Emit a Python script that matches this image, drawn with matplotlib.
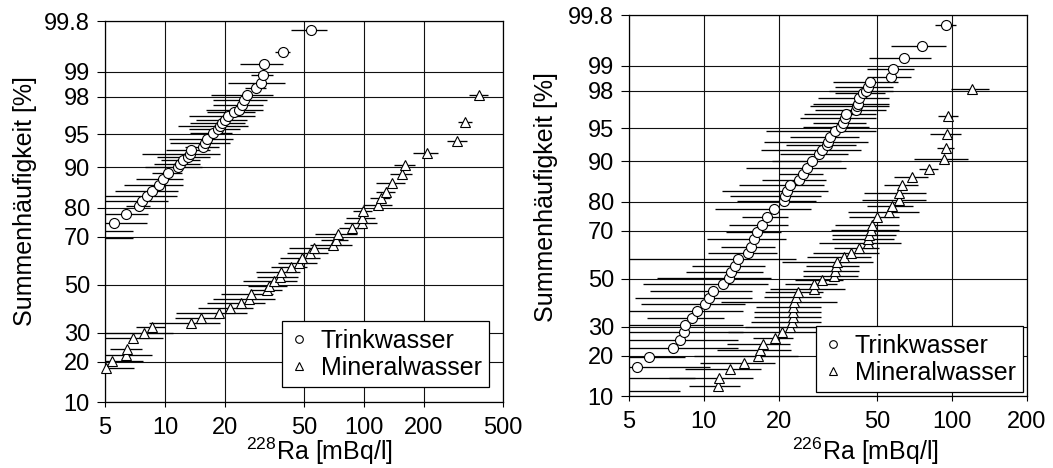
import numpy as np
import matplotlib
matplotlib.use("Agg")
import matplotlib.pyplot as plt
from matplotlib.lines import Line2D
from matplotlib.ticker import FixedLocator, NullLocator
from statistics import NormalDist

plt.rcParams['font.family'] = ['Liberation Sans', 'DejaVu Sans']
plt.rcParams['mathtext.default'] = 'regular'

# ---------------- data ----------------
# left panel: 228Ra
tw228_x = [3.9, 4.0, 5.55, 6.35, 7.41, 7.64, 8.10, 8.64, 9.31, 9.75, 10.4, 11.6, 11.9, 12.3, 13.0,
           13.3, 13.5, 15.6, 15.9, 16.3, 17.5, 18.55, 18.9, 19.3, 20.05, 20.8, 22.3, 23.6, 24.3,
           25.0, 25.95, 28.7, 30.4, 31.0, 31.6, 39.1, 54.2]
tw228_err = [3.0, 2.9, 2.55, 1.85, 1.0, 2.76, 3.37, 3.04, 3.06, 2.62, 1.8, 3.7, 3.1, 2.7, 3.85,
             5.6, 3.35, 3.0, 5.3, 5.8, 4.2, 5.3, 7.3, 6.0, 5.7, 7.6, 6.1, 7.6, 6.9, 7.5, 8.9,
             3.4, 9.7, 3.8, 7.8, 3.4, 11.3]
tw228_p = [69.5, 72.1, 75.0, 77.9, 80.5, 81.9, 83.3, 84.7, 86.1, 87.5, 88.8, 90.1, 90.7, 91.3,
           91.9, 92.3, 92.9, 93.4, 93.9, 94.4, 95.1, 95.5, 95.8, 96.1, 96.4, 96.7, 97.0, 97.2,
           97.5, 97.8, 98.1, 98.4, 98.6, 98.9, 99.2, 99.45, 99.73]

mw228_x = [5.06, 5.40, 6.38, 6.47, 6.94, 7.85, 8.58, 13.6, 15.1, 18.6, 21.2, 24.0, 26.6, 27.0,
           32.7, 33.5, 35.3, 37.9, 38.2, 42.9, 47.4, 49.0, 53.6, 56.2, 70.2, 72.2, 74.3, 86.8,
           97.5, 97.5, 98.6, 118.2, 121.5, 129.2, 138, 154.9, 160.9, 206.9, 294.7, 323.3, 378.6]
mw228_err = [1.9, 2.4, 2.2, 1.2, 2.8, 3.1, 1.4, 5.3, 3.8, 7.2, 6.5, 7.8, 9.2, 7.9, 5.9, 7.4,
             10.6, 8.8, 9.5, 8.7, 10.5, 11.2, 12.6, 14, 16.6, 11, 17.7, 12.2, 18.5, 16.2, 10.8,
             19.8, 13.8, 14, 23, 19, 19.7, 29.6, 34, 25, 43]
mw228_p = [18.2, 20.2, 22.1, 24.0, 27.9, 30.0, 32.1, 33.9, 35.9, 38.0, 39.8, 41.9, 43.6, 45.8,
           47.6, 49.5, 51.6, 53.4, 55.6, 57.5, 59.2, 61.3, 63.4, 65.4, 66.7, 68.7, 71.0, 73.1,
           74.8, 76.5, 78.9, 80.8, 82.7, 84.5, 86.7, 88.6, 90.4, 92.4, 94.2, 96.2, 98.1]

# right panel: 226Ra
tw226_x = [4.2, 4.2, 5.40, 6.02, 7.49, 8.01, 8.34, 8.39, 9.01, 9.40, 10.1, 10.5, 10.9, 11.9,
           12.6, 12.9, 13.3, 13.7, 15.1, 15.5, 15.9, 16.4, 17.2, 18.0, 19.1, 21.0, 21.2, 21.7,
           22.2, 24.1, 25.1, 26.1, 27.3, 29.1, 30.0, 31.3, 31.6, 32.3, 33.6, 35.7, 36.3, 36.9,
           37.4, 41.1, 41.3, 41.7, 42.3, 43.6, 44.8, 45.7, 46.7, 56.8, 58.0, 64.2, 75.6, 94.4]
tw226_err = [3.8, 5.0, 5.2, 2.4, 6.2, 5.7, 6.0, 6.0, 3.1, 5.0, 4.5, 5.2, 4.8, 6.2, 6.1, 4.4,
             4.3, 9.9, 4.7, 3.8, 5.6, 4.1, 4.6, 3.8, 8.0, 7.4, 8.5, 9.9, 8.4, 7.0, 5.1, 11.3,
             8.4, 8.8, 13, 9.8, 14.1, 10, 15.8, 10.7, 8.7, 12.5, 12, 13.1, 14.6, 14.2, 13.6,
             9.8, 12.8, 11.9, 13.6, 11.5, 12.4, 18, 18.8, 9.1]
tw226_p = [11.05, 13.9, 16.8, 19.7, 22.3, 25.1, 27.9, 30.6, 33.2, 36.2, 39.1, 41.7, 44.6, 47.5,
           50.1, 52.7, 55.6, 58.3, 60.9, 63.6, 66.6, 69.6, 72.1, 74.8, 77.6, 80.2, 81.6, 83.1,
           84.7, 85.9, 87.3, 88.6, 90.0, 91.3, 92.0, 92.8, 93.25, 93.9, 94.6, 95.1, 95.5, 96.0,
           96.4, 96.7, 97.0, 97.2, 97.55, 97.85, 98.0, 98.2, 98.4, 98.6, 98.9, 99.2, 99.45, 99.72]

mw226_x = [11.36, 11.53, 12.72, 14.5, 16.5, 16.9, 17.3, 19.3, 20.6, 22.2, 22.6, 22.8, 22.85,
           22.95, 23.1, 23.6, 23.9, 27.7, 27.85, 29.8, 33.4, 33.7, 34.0, 34.3, 36.6, 39.2, 42.1,
           45.7, 45.7, 46.1, 46.9, 47.6, 49.9, 55.9, 57.3, 60.9, 61.3, 62.8, 68.9, 80.4, 92.9,
           94.4, 94.9, 96.4, 120.0]
mw226_err = [2.6, 4.3, 4.3, 4.8, 7.4, 5.6, 4.9, 3.5, 8.1, 7.6, 7.1, 6.9, 6.85, 6.75, 11.4, 6.1,
             6.2, 9.2, 6.6, 6.4, 8.2, 8.6, 8.3, 13.6, 10.6, 11.7, 8.8, 16.6, 12.8, 13.3, 14.4,
             13.7, 11.4, 17.8, 12, 17.6, 17.2, 9.8, 10.7, 6.9, 22.4, 7.5, 13.5, 8.7, 20.8]
mw226_p = [12.05, 14.0, 16.1, 17.9, 19.8, 21.7, 23.8, 25.7, 27.9, 29.7, 31.7, 33.75, 35.8, 37.8,
           39.8, 42.2, 44.0, 45.6, 47.6, 49.5, 51.1, 53.3, 55.5, 57.3, 59.45, 61.1, 63.0, 65.0,
           66.6, 68.3, 70.2, 72.1, 74.8, 76.7, 78.6, 80.6, 82.4, 84.7, 86.6, 88.4, 90.4, 92.3,
           94.3, 96.2, 98.1]

y_ticks = [10, 20, 30, 50, 70, 80, 90, 95, 98, 99, 99.8]
y_labels = ["10", "20", "30", "50", "70", "80", "90", "95", "98", "99", "99.8"]
x_ticks_left = [5, 10, 20, 50, 100, 200, 500]
x_ticks_right = [5, 10, 20, 50, 100, 200]
series_names = ["Trinkwasser", "Mineralwasser"]
ylabel = "Summenhäufigkeit [%]"
xlabel_left = r"$^{228}$Ra [mBq/l]"
xlabel_right = r"$^{226}$Ra [mBq/l]"

# ---------------- probability scale ----------------
_nd = NormalDist()
_ppf = np.vectorize(lambda q: _nd.inv_cdf(q) if np.isfinite(q) else np.nan, otypes=[float])
_cdf = np.vectorize(lambda z: _nd.cdf(z) if np.isfinite(z) else np.nan, otypes=[float])


def prob_fwd(p):
    p = np.asarray(p, dtype=float)
    return _ppf(np.clip(p / 100.0, 1e-9, 1 - 1e-9))


def prob_inv(z):
    z = np.asarray(z, dtype=float)
    return _cdf(z) * 100.0


fig = plt.figure(figsize=(10.53, 4.68), dpi=100)
axL = fig.add_axes([0.0997, 0.141, 0.378, 0.814])
axR = fig.add_axes([0.5973, 0.1538, 0.378, 0.814])


def draw(ax, xmin, xmax, xticks, tw, mw, xlabel, xlab_pos, ylab_pos, leg_anchor):
    ax.set_xscale('log')
    ax.set_yscale('function', functions=(prob_fwd, prob_inv))
    ax.set_xlim(xmin, xmax)
    ax.set_ylim(10, 99.8)
    ax.xaxis.set_major_locator(FixedLocator(xticks))
    ax.set_xticklabels([str(t) for t in xticks])
    ax.xaxis.set_minor_locator(NullLocator())
    ax.yaxis.set_major_locator(FixedLocator(y_ticks))
    ax.set_yticklabels(y_labels)
    ax.yaxis.set_minor_locator(NullLocator())
    ax.grid(True, which='major', color='#111111', lw=0.8, zorder=1)
    ax.set_axisbelow(True)
    ax.tick_params(axis='y', direction='out', length=5.8, width=0.8, pad=5, labelsize=17)
    ax.tick_params(axis='x', direction='out', length=3.6, width=0.8, pad=7.5, labelsize=17)
    for s in ax.spines.values():
        s.set_linewidth(0.9)
        s.set_color('k')

    for (x, e, p), mk, ms in ((tw, 'o', 7.2), (mw, '^', 7.8)):
        x = np.asarray(x, float)
        e = np.asarray(e, float)
        p = np.asarray(p, float)
        ax.errorbar(x, p, xerr=e, fmt='none', ecolor='k', elinewidth=0.95, capsize=0, zorder=3)
        vis = x >= xmin
        ax.plot(x[vis], p[vis], ls='none', marker=mk, mfc='white', mec='k', ms=ms, mew=0.8,
                zorder=4, clip_on=False)

    ax.set_ylabel(ylabel, fontsize=18)
    ax.yaxis.set_label_coords(*ylab_pos)
    ax.set_xlabel(xlabel, fontsize=18)
    ax.xaxis.set_label_coords(*xlab_pos)

    handles = [Line2D([], [], ls='none', marker='o', mfc='white', mec='k', ms=5.5, mew=0.8),
               Line2D([], [], ls='none', marker='^', mfc='white', mec='k', ms=6, mew=0.8)]
    leg = ax.legend(handles, series_names, loc='lower right', bbox_to_anchor=leg_anchor,
                    fontsize=18, frameon=True, fancybox=False, framealpha=1, edgecolor='k',
                    handlelength=0.8, handletextpad=0.45, borderpad=0.3, labelspacing=0.12,
                    borderaxespad=0)
    leg.get_frame().set_linewidth(0.9)
    leg.set_zorder(10)


draw(axL, 5, 500, x_ticks_left, (tw228_x, tw228_err, tw228_p), (mw228_x, mw228_err, mw228_p),
     xlabel_left, (0.54, -0.088), (-0.172, 0.528), (0.965, 0.039))
draw(axR, 5, 200, x_ticks_right, (tw226_x, tw226_err, tw226_p), (mw226_x, mw226_err, mw226_p),
     xlabel_right, (0.595, -0.103), (-0.178, 0.521), (0.99, 0.0105))

fig.savefig("out.png", dpi=100)
